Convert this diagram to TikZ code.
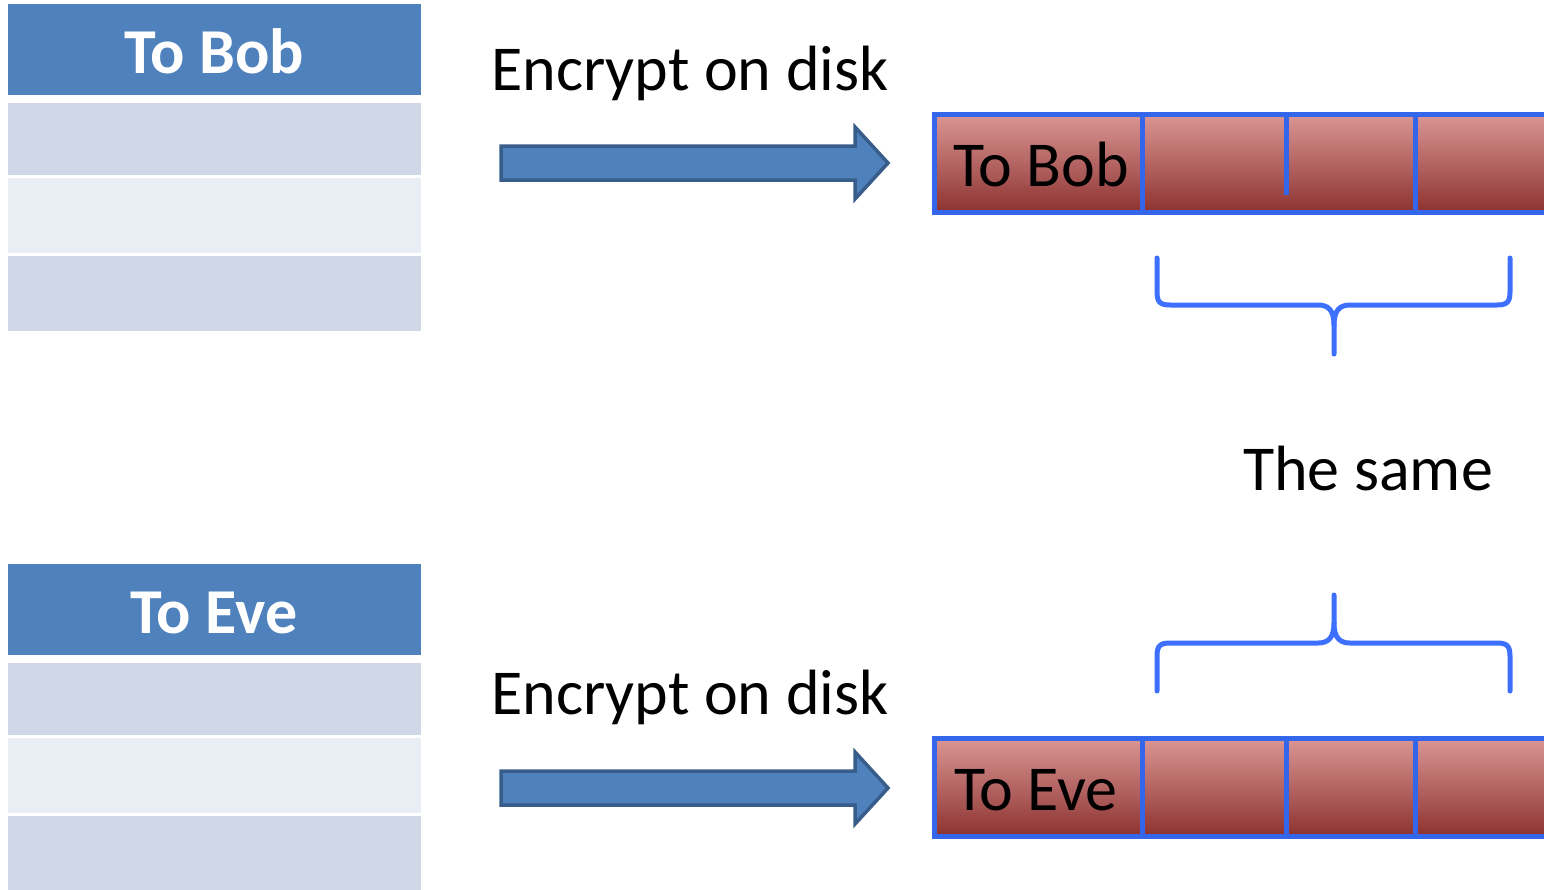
\documentclass[tikz,border=0pt]{standalone}
\usepackage{fontspec}
\setmainfont{Carlito}
\begin{document}
\begin{tikzpicture}[x=1pt,y=-1pt,
  hdr/.style={fill=hdrblue, draw=none, anchor=north west, inner sep=0pt},
  rowdark/.style={fill=rowA, draw=none, anchor=north west, inner sep=0pt},
  rowlight/.style={fill=rowB, draw=none, anchor=north west, inner sep=0pt},
  cell/.style={top color=redtop, middle color=redmid, bottom color=redbot,
    draw=none, anchor=north west, inner sep=0pt},
  bigarrow/.style={fill=hdrblue, draw=arrowedge, line width=3.5pt, line join=miter},
  framecol/.style={draw=frameblue, line width=5pt},
  bracecol/.style={draw=braceblue, line width=5pt, line cap=round, line join=round},
  label/.style={font=\fontsize{64}{70}\selectfont, anchor=base, inner sep=0pt},
]
\definecolor{hdrblue}{RGB}{79,129,189}
\definecolor{arrowedge}{RGB}{56,93,138}
\definecolor{rowA}{RGB}{208,216,232}
\definecolor{rowB}{RGB}{233,237,244}
\definecolor{redtop}{RGB}{218,150,148}
\definecolor{redmid}{RGB}{192,80,77}
\definecolor{redbot}{RGB}{140,50,48}
\definecolor{frameblue}{RGB}{51,102,235}
\definecolor{braceblue}{RGB}{61,112,255}

\useasboundingbox (0,0) rectangle (1544,889);

% ---------- upper table ----------
\node[hdr, minimum width=413pt, minimum height=91pt] (hb) at (8,4) {};
\node[rowdark, minimum width=413pt, minimum height=72pt] (b1) at (8,103) {};
\node[rowlight, minimum width=413pt, minimum height=75pt] (b2) at (8,178) {};
\node[rowdark, minimum width=413pt, minimum height=75pt] (b3) at (8,256) {};
\node[label, text=white, font=\bfseries\fontsize{64}{70}\selectfont] (hbt) at (214,73) {To Bob};

% ---------- lower table ----------
\node[hdr, minimum width=413pt, minimum height=91pt] (he) at (8,564) {};
\node[rowdark, minimum width=413pt, minimum height=72pt] (e1) at (8,663) {};
\node[rowlight, minimum width=413pt, minimum height=75pt] (e2) at (8,738) {};
\node[rowdark, minimum width=413pt, minimum height=76pt] (e3) at (8,816) {};
\node[label, text=white, font=\bfseries\fontsize{64}{70}\selectfont] (het) at (214,633) {To Eve};

% ---------- captions ----------
\node[label] (encb) at (690,90) {Encrypt on disk};
\node[label] (ence) at (690,714) {Encrypt on disk};
\node[label] (same) at (1368,490) {The same};

% ---------- block arrows ----------
\draw[bigarrow] (501,146) -- (855,146) -- (855,127) -- (888,163) -- (855,199)
  -- (855,180) -- (501,180) -- cycle;
\draw[bigarrow] (501,771) -- (855,771) -- (855,752) -- (888,788) -- (855,824)
  -- (855,805) -- (501,805) -- cycle;

% ---------- encrypted record for Bob ----------
\node[cell, minimum width=209pt, minimum height=99pt] (rb1) at (934,114) {};
\node[cell, minimum width=144pt, minimum height=99pt] (rb2) at (1142,114) {};
\node[cell, minimum width=129pt, minimum height=99pt] (rb3) at (1286,114) {};
\node[cell, minimum width=130pt, minimum height=99pt] (rb4) at (1415,114) {};
\draw[framecol] (934,114) rectangle (1550,212);
\draw[framecol] (rb2.north west) -- (rb2.south west);
\draw[framecol] (rb3.north west) -- ++(0,81);
\draw[framecol] (rb4.north west) -- (rb4.south west);
\node[label] (rbt) at (1041,186) {To Bob};

% ---------- encrypted record for Eve ----------
\node[cell, minimum width=209pt, minimum height=99pt] (re1) at (934,738) {};
\node[cell, minimum width=144pt, minimum height=99pt] (re2) at (1142,738) {};
\node[cell, minimum width=129pt, minimum height=99pt] (re3) at (1286,738) {};
\node[cell, minimum width=130pt, minimum height=99pt] (re4) at (1415,738) {};
\draw[framecol] (934,738) rectangle (1550,836);
\draw[framecol] (re2.north west) -- (re2.south west);
\draw[framecol] (re3.north west) -- (re3.south west);
\draw[framecol] (re4.north west) -- (re4.south west);
\node[label] (ret) at (1036,810) {To Eve};

% ---------- braces ----------
\draw[bracecol] (1157,258) -- (1157,292) .. controls (1157,302) and (1160,305) .. (1170,305)
  -- (1318,305) .. controls (1328,305) and (1334,310) .. (1334,325) -- (1334,354);
\draw[bracecol] (1510,258) -- (1510,292) .. controls (1510,302) and (1507,305) .. (1497,305)
  -- (1350,305) .. controls (1340,305) and (1334,310) .. (1334,325);
\draw[bracecol] (1157,691) -- (1157,656) .. controls (1157,646) and (1160,643) .. (1170,643)
  -- (1318,643) .. controls (1328,643) and (1334,638) .. (1334,623) -- (1334,595);
\draw[bracecol] (1510,691) -- (1510,656) .. controls (1510,646) and (1507,643) .. (1497,643)
  -- (1350,643) .. controls (1340,643) and (1334,638) .. (1334,623);
\end{tikzpicture}
\end{document}
